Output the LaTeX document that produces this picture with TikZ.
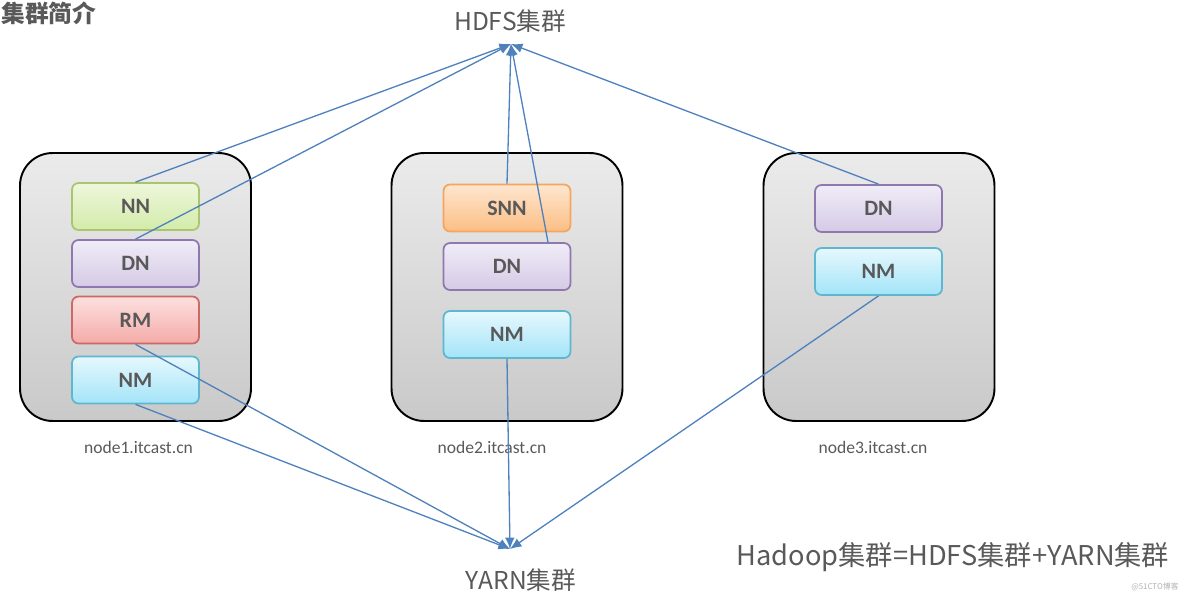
\documentclass[tikz,border=0pt]{standalone}
\usepackage{fontspec}
\setmainfont{Carlito}
\newfontfamily\cjk{Noto Sans CJK SC}
\usetikzlibrary{arrows.meta, calc}

\definecolor{textGray}{HTML}{595959}
\definecolor{linkBlue}{HTML}{4F81BD}
\definecolor{hostTop}{HTML}{EBEBEB}
\definecolor{hostBottom}{HTML}{C9C9C9}
\definecolor{nnLine}{HTML}{A9C56E}
\definecolor{nnTop}{HTML}{EEF7DC}
\definecolor{nnBottom}{HTML}{D3EBAA}
\definecolor{dnLine}{HTML}{8F78AD}
\definecolor{dnTop}{HTML}{F0ECF7}
\definecolor{dnBottom}{HTML}{D5CAE6}
\definecolor{rmLine}{HTML}{CD6865}
\definecolor{rmTop}{HTML}{FCE0DF}
\definecolor{rmBottom}{HTML}{F4ABA8}
\definecolor{nmLine}{HTML}{5EB6CF}
\definecolor{nmTop}{HTML}{E6F8FD}
\definecolor{nmBottom}{HTML}{A3E4F8}
\definecolor{snnLine}{HTML}{F5A55E}
\definecolor{snnTop}{HTML}{FEE6CF}
\definecolor{snnBottom}{HTML}{FBBE84}

\begin{document}
\begin{tikzpicture}[
        x=0.02cm,
        y=-0.02cm,
        host-box/.style={
            draw=black,
            line width=1.1pt,
            rounded corners=0.65cm,
            top color=hostTop,
            bottom color=hostBottom,
            minimum width=4.62cm,
            minimum height=5.36cm,
        },
        role-box/.style={
            draw=#1Line,
            line width=1pt,
            rounded corners=0.13cm,
            top color=#1Top,
            bottom color=#1Bottom,
            minimum width=2.54cm,
            minimum height=0.94cm,
            text=textGray,
            font=\fontsize{12.5}{14}\selectfont\bfseries,
        },
        host-label/.style={
            text=textGray,
            font=\fontsize{10}{12}\selectfont,
        },
        cluster-label/.style={
            text=textGray,
            font=\cjk\fontsize{14}{16}\selectfont,
        },
        link/.style={
            draw=linkBlue,
            line width=0.75pt,
            -{Latex[length=6.5pt, width=5.5pt]},
        },
    ]
    \useasboundingbox (0, 0) rectangle (1184, 596);

    \node[text=textGray, font=\cjk\fontsize{13.5}{15}\selectfont\bfseries, inner sep=0pt, anchor=west] (title) at (1, 13) {集群简介};

    \foreach \i/\x/\lx in {1/135.5/138.5, 2/507/492, 3/879/873}
    {
        \node[host-box] (host-\i) at (\x, 287) {};
        \node[host-label] (label-\i) at (\lx, 447) {node\i.itcast.cn};
    }

    \node[role-box=nn] (nn-1) at (135.5, 206.5) {NN};
    \node[role-box=dn] (dn-1) at (135.5, 263.5) {DN};
    \node[role-box=rm] (rm-1) at (135.5, 320) {RM};
    \node[role-box=nm] (nm-1) at (135.5, 380) {NM};

    \node[role-box=snn] (snn-2) at (507, 208) {SNN};
    \node[role-box=dn] (dn-2) at (507, 266.5) {DN};
    \node[role-box=nm] (nm-2) at (507, 334.5) {NM};

    \node[role-box=dn] (dn-3) at (878.5, 208.5) {DN};
    \node[role-box=nm] (nm-3) at (878.5, 271.5) {NM};

    \node[cluster-label] (hdfs) at (510, 21) {HDFS集群};
    \node[cluster-label] (yarn) at (521, 580) {YARN集群};
    \node[cluster-label, font=\cjk\fontsize{15.5}{18}\selectfont] (sum) at (953, 557) {Hadoop集群=HDFS集群+YARN集群};
    \node[text=gray!60, font=\cjk\fontsize{4.5}{5}\selectfont] (mark) at (1155, 587) {@51CTO博客};

    \coordinate (hdfs-in) at (511, 44);
    \coordinate (yarn-in) at (510, 549);

    \draw[link] (nn-1.north) -- (hdfs-in);
    \draw[link] (dn-1.north) -- (hdfs-in);
    \draw[link] (snn-2.north) -- (hdfs-in);
    \draw[link] ([xshift=0.82cm]dn-2.north) -- (hdfs-in);
    \draw[link] (dn-3.north) -- (hdfs-in);

    \draw[link] (rm-1.south) -- (yarn-in);
    \draw[link] (nm-1.south) -- (yarn-in);
    \draw[link] (nm-2.south) -- (yarn-in);
    \draw[link] (nm-3.south) -- (yarn-in);
\end{tikzpicture}
\end{document}
